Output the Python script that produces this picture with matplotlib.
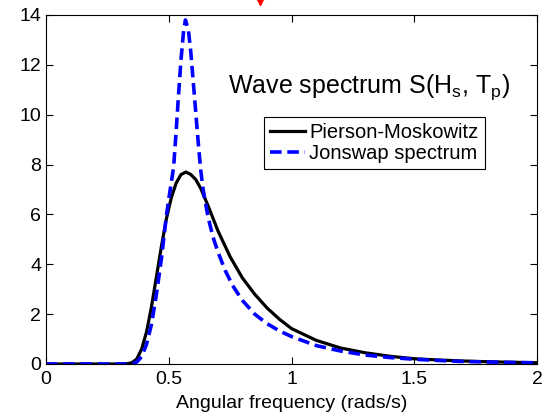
from matplotlib import pyplot as plt

plt.rcParams['font.family'] = ['Liberation Sans', 'DejaVu Sans']
plt.rcParams['mathtext.fontset'] = 'custom'
plt.rcParams['mathtext.rm'] = 'Liberation Sans'

# angular frequency (rads/s) and spectrum values
w_pm = [0, 0.1, 0.2, 0.3, 0.33, 0.35, 0.37, 0.39, 0.41, 0.43, 0.45, 0.47, 0.49,
        0.51, 0.53, 0.55, 0.57, 0.59, 0.61, 0.63, 0.66, 0.70, 0.75, 0.80, 0.85,
        0.90, 0.95, 1.0, 1.1, 1.2, 1.3, 1.4, 1.5, 1.6, 1.7, 1.8, 1.9, 2.0]
s_pm = [0, 0, 0, 0, 0.01, 0.05, 0.2, 0.6, 1.3, 2.3, 3.5, 4.7, 5.8,
        6.65, 7.25, 7.6, 7.7, 7.6, 7.4, 7.05, 6.35, 5.35, 4.3, 3.45, 2.8,
        2.25, 1.8, 1.42, 0.95, 0.64, 0.45, 0.31, 0.21, 0.16, 0.12, 0.09, 0.07, 0.05]

w_js = [0, 0.1, 0.2, 0.3, 0.35, 0.37, 0.39, 0.41, 0.43, 0.45, 0.47, 0.49,
        0.50, 0.52, 0.53, 0.54, 0.55, 0.56, 0.568, 0.58, 0.59, 0.60, 0.61, 0.62,
        0.63, 0.64, 0.66, 0.68, 0.70, 0.73, 0.76, 0.80, 0.85, 0.90, 0.95, 1.0,
        1.1, 1.2, 1.3, 1.4, 1.5, 1.6, 1.7, 1.8, 1.9, 2.0]
s_js = [0, 0, 0, 0, 0, 0.08, 0.3, 0.8, 1.6, 2.8, 4.2, 5.9,
        6.6, 7.9, 9.3, 10.8, 12.2, 13.3, 13.8, 13.4, 12.5, 11.3, 10.1, 8.9,
        7.8, 7.0, 5.9, 5.1, 4.5, 3.75, 3.15, 2.55, 2.0, 1.62, 1.33, 1.1,
        0.74, 0.52, 0.36, 0.26, 0.19, 0.14, 0.10, 0.08, 0.06, 0.05]

fig = plt.figure(figsize=(5.46, 4.16), dpi=100)
ax = fig.add_axes([0.084, 0.125, 0.900, 0.839])

ax.plot(w_pm, s_pm, color='black', lw=2.3, label='Pierson-Moskowitz')
ax.plot(w_js, s_js, color='blue', lw=2.6, dashes=(3.2, 1.6), label='Jonswap spectrum')

ax.set_xlim(0, 2)
ax.set_ylim(0, 14)
ax.set_xticks([0, 0.5, 1, 1.5, 2])
ax.set_xticklabels(['0', '0.5', '1', '1.5', '2'])
ax.set_yticks(range(0, 15, 2))
ax.tick_params(direction='in', top=True, right=True, length=5, labelsize=14, width=0.8)
ax.tick_params(axis='x', pad=5)
ax.set_xlabel('Angular frequency (rads/s)', fontsize=14, labelpad=5)

ax.text(0.74, 10.87, 'Wave spectrum S(H$_\\mathregular{s}$, T$_\\mathregular{p}$)',
        fontsize=18, va='baseline', ha='left')

leg = ax.legend(loc='upper left', bbox_to_anchor=(0.444, 0.708), borderaxespad=0,
                fontsize=14.5, fancybox=False, edgecolor='black', framealpha=1,
                handlelength=1.75, handletextpad=0.2, borderpad=0.3, labelspacing=0.1)
leg.get_frame().set_linewidth(0.8)

# little red cursor mark above the plot
ax.plot([0.87], [14.58], marker='v', color='red', markersize=6, clip_on=False)

fig.savefig('out.png', dpi=100)
